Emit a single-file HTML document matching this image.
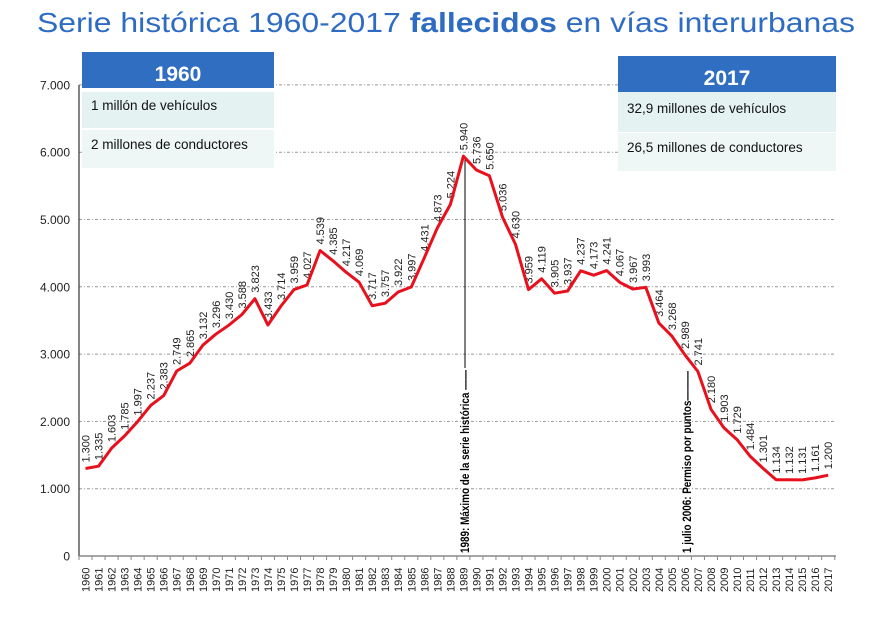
<!DOCTYPE html>
<html><head><meta charset="utf-8"><style>
html,body{margin:0;padding:0;background:#fff;width:873px;height:628px;overflow:hidden}
</style></head><body>
<svg width="873" height="628" xmlns="http://www.w3.org/2000/svg" font-family="Liberation Sans, sans-serif">
<text x="446" y="32" text-anchor="middle" font-size="28" fill="#2e6cc4" textLength="818" lengthAdjust="spacingAndGlyphs">Serie histórica 1960-2017 <tspan font-weight="bold">fallecidos</tspan> en vías interurbanas</text>
<g id="chart"></g>
<!-- boxes -->
<rect x="82" y="52" width="192" height="36" fill="#2f6ec0"/>
<text x="178" y="81" text-anchor="middle" font-size="21" font-weight="bold" fill="#fff">1960</text>
<rect x="82" y="92" width="192" height="36" fill="#e5f2f2"/>
<rect x="82" y="130" width="192" height="38" fill="#eef6f6"/>
<text x="91" y="110" font-size="13.5" fill="#111">1 millón de vehículos</text>
<text x="91" y="149" font-size="13.5" fill="#111">2 millones de conductores</text>
<rect x="618" y="56" width="218" height="36" fill="#2f6ec0"/>
<text x="727" y="85" text-anchor="middle" font-size="21" font-weight="bold" fill="#fff">2017</text>
<rect x="618" y="92" width="218" height="40" fill="#e5f2f2"/>
<rect x="618" y="133" width="218" height="38" fill="#eef6f6"/>
<text x="627" y="113" font-size="13.5" fill="#111">32,9 millones de vehículos</text>
<text x="627" y="152" font-size="13.5" fill="#111">26,5 millones de conductores</text>
</svg>
<script>
const v=[1300,1335,1603,1785,1997,2237,2383,2749,2865,3132,3296,3430,3588,3823,3433,3714,3959,4027,4539,4385,4217,4069,3717,3757,3922,3997,4431,4873,5224,5940,5736,5650,5036,4630,3959,4119,3905,3937,4237,4173,4241,4067,3967,3993,3464,3268,2989,2741,2180,1903,1729,1484,1301,1134,1132,1131,1161,1200];
const X0=79,S=13.03,Y0=556,K=0.0673;
let s='';
for(let i=1;i<=7;i++){const y=Y0-i*1000*K;s+=`<line x1="${X0}" y1="${y}" x2="836" y2="${y}" stroke="#999" stroke-width="1" stroke-dasharray="3,2,1,2"/>`;}
for(let i=0;i<=7;i++){const y=Y0-i*1000*K;s+=`<text x="70" y="${y+4.5}" text-anchor="end" font-size="12" fill="#222">${i?i+'.000':'0'}</text>`;}
s+=`<line x1="${X0}" y1="85" x2="${X0}" y2="${Y0}" stroke="#333" stroke-width="1.2"/>`;
s+=`<line x1="${X0}" y1="${Y0}" x2="836" y2="${Y0}" stroke="#888" stroke-width="1.5"/>`;
for(let i=0;i<=58;i++){const x=X0+i*S;s+=`<line x1="${x}" y1="${Y0}" x2="${x}" y2="${Y0+4}" stroke="#888"/>`;}
for(let i=0;i<58;i++){const x=X0+(i+0.5)*S;s+=`<text transform="translate(${x+4},${Y0+36}) rotate(-90)" font-size="11" fill="#222">${1960+i}</text>`;}
let p='';
v.forEach((d,i)=>{const x=X0+(i+0.5)*S,y=Y0-d*K;p+=(i?'L':'M')+x.toFixed(1)+','+y.toFixed(1);
const t=(d/1000).toFixed(3);
s+=`<text transform="translate(${x+4},${y-6}) rotate(-90)" font-size="11" fill="#222">${t}</text>`;});
s+=`<line x1="465" y1="160" x2="465" y2="368" stroke="#000" stroke-width="1"/>`;
s+=`<text transform="translate(469,553) rotate(-90)" font-size="12" font-weight="bold" fill="#000" textLength="183" lengthAdjust="spacingAndGlyphs">1989: Máximo de  la serie histórica ——</text>`;
s+=`<text transform="translate(691,553) rotate(-90)" font-size="12" font-weight="bold" fill="#000" textLength="182" lengthAdjust="spacingAndGlyphs">1 julio 2006: Permiso por puntos———</text>`;
s+=`<path d="${p}" fill="none" stroke="#e8101c" stroke-width="3" stroke-linejoin="round"/>`;
document.getElementById('chart').innerHTML=s;
</script>
</body></html>
